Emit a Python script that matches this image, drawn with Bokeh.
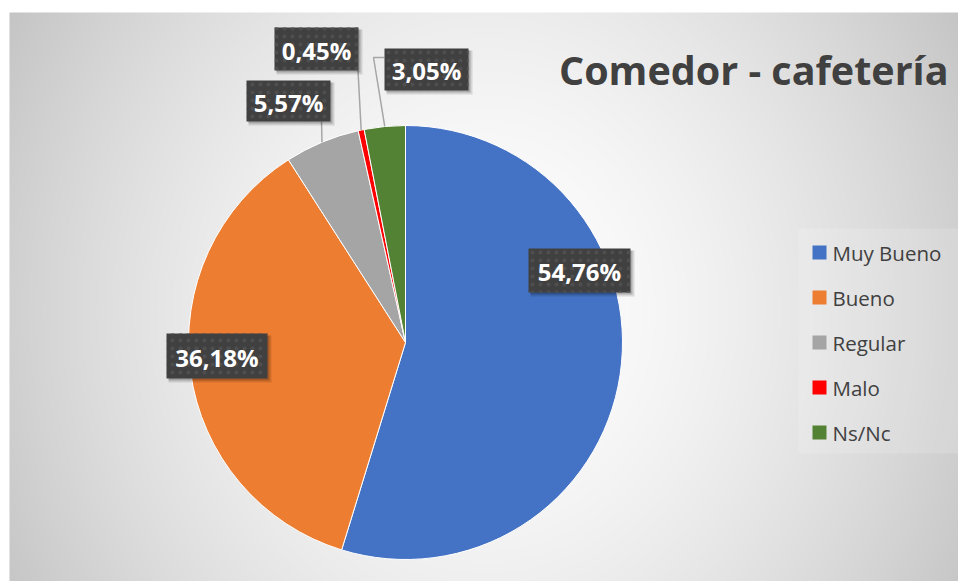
import numpy as np
from bokeh.plotting import figure
from bokeh.models import Range1d
from bokeh.core.properties import value
from bokeh.embed import file_html
from bokeh.resources import INLINE

# ---- data ----
categories = ["Muy Bueno", "Bueno", "Regular", "Malo", "Ns/Nc"]
percentages = [54.76, 36.18, 5.57, 0.45, 3.05]
pct_labels = ["54,76%", "36,18%", "5,57%", "0,45%", "3,05%"]
title_text = "Comedor - cafetería"

# ---- styles / layout ----
colors = ["#4472C4", "#ED7D31", "#A5A5A5", "#FF0000", "#548235"]
W, H = 958, 581
FONT = "Open Sans"


def X(px):  # reference page pixel -> data x
    return px


def Y(py):  # reference page pixel -> data y
    return H - py


p = figure(width=W, height=H, x_range=Range1d(0, W), y_range=Range1d(0, H),
           output_backend="svg", toolbar_location=None, min_border=0)
p.axis.visible = False
p.grid.visible = False
p.outline_line_color = None
p.background_fill_color = "white"
p.border_fill_color = "white"

# ---- radial gradient background ----
bx0, by0 = 9, 12
bw, bh = W - bx0, H - by0
xs = np.arange(bw) + bx0
ys = np.arange(bh) + by0
XX, YY = np.meshgrid(xs, ys)
dx = (XX - 485) / 470.0
dy = (YY - 310) / 290.0
t = np.sqrt(dx ** 2 + 0.3 * dy ** 2)
drop = 46 * np.clip(t, 0, 2) ** 1.6
v = np.clip(255 - drop, 0, 255).astype(np.uint32)
img = (255 << 24) | (v << 16) | (v << 8) | v
img = img[::-1].astype(np.uint32)
p.image_rgba(image=[img], x=X(bx0), y=Y(H), dw=bw, dh=bh)

# ---- pie ----
cx, cy, R = X(405), Y(342), 217
fr = np.array(percentages) / sum(percentages)
ends = np.pi / 2 - np.cumsum(fr) * 2 * np.pi
starts = np.concatenate([[np.pi / 2], ends[:-1]])
p.wedge(x=cx, y=cy, radius=R, start_angle=ends, end_angle=starts,
        fill_color=colors, line_color="white", line_width=1)

mids = (starts + ends) / 2

# ---- data labels ----
box_c = [(579, 270), (216.5, 355.5), (288, 100.5), (316, 48.5), (426, 69)]
box_s = [(102, 44), (101, 45), (84, 41), (84, 43), (84, 42)]

lc = "#a6a6a6"
# Regular
i = 2
ex, ey = cx + R * np.cos(mids[i]), cy + R * np.sin(mids[i])
p.line([X(321), ex], [Y(121), ey], line_color=lc, line_width=1.5)
# Malo
i = 3
ex, ey = cx + R * np.cos(mids[i]), cy + R * np.sin(mids[i])
p.line([X(357.5), ex], [Y(70), ey], line_color=lc, line_width=1.5)
# Ns/Nc
i = 4
ex, ey = cx + R * np.cos(mids[i]), cy + R * np.sin(mids[i])
p.line([X(384), X(373), ex], [Y(57), Y(57), ey], line_color=lc, line_width=1.5)

bxs = [X(c[0]) for c in box_c]
bys = [Y(c[1]) for c in box_c]
bws = [s[0] for s in box_s]
bhs = [s[1] for s in box_s]
# shadows
p.rect(x=[b + 3 for b in bxs], y=[b - 3 for b in bys], width=[w + 2 for w in bws],
       height=[h + 2 for h in bhs], fill_color="black", fill_alpha=0.12, line_color=None)
p.rect(x=[b + 2 for b in bxs], y=[b - 2 for b in bys], width=bws, height=bhs,
       fill_color="black", fill_alpha=0.2, line_color=None)
p.rect(x=bxs, y=bys, width=bws, height=bhs, fill_color="#404040", line_color=None,
       hatch_pattern="dot", hatch_color="#4e4e4e", hatch_scale=8, hatch_weight=1)
p.text(x=bxs, y=[b - 1 for b in bys], text=pct_labels, text_color="white",
       text_font=value(FONT), text_font_style="bold", text_font_size="24px",
       text_align="center", text_baseline="middle")

# ---- title ----
p.text(x=[X(948)], y=[Y(69)], text=[title_text], text_color="#404040",
       text_font=value(FONT), text_font_style="bold", text_font_size="39.5px",
       text_align="right", text_baseline="alphabetic")

# ---- legend ----
p.quad(left=X(798), right=X(958), top=Y(228), bottom=Y(453),
       fill_color="white", fill_alpha=0.15, line_color=None)
ly = [Y(252 + 45 * k) for k in range(len(categories))]
p.rect(x=[X(819)] * len(categories), y=ly, width=14, height=14,
       fill_color=colors, line_color=None)
p.text(x=[X(832)] * len(categories), y=ly, text=categories, text_color="#404040",
       text_font=value(FONT), text_font_size="20.5px", text_align="left",
       text_baseline="middle")

open("out.html", "w").write(file_html(p, INLINE))
